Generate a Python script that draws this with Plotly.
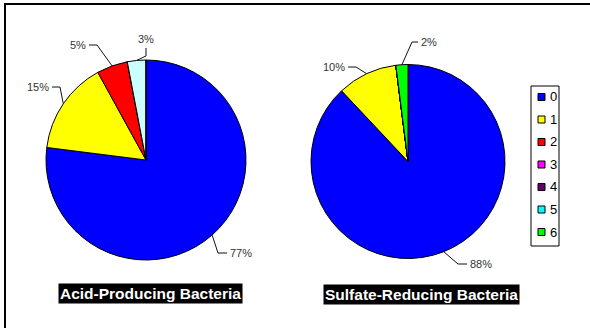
import math
import plotly.graph_objects as go

W, H = 590, 328

# Categories shared by both pies
categories = ["0", "1", "2", "3", "4", "5", "6"]
legend_colors = ["#0000FF", "#FFFF00", "#FF0000", "#FF00FF", "#660066", "#00FFFF", "#00FF00"]

# Percentage of samples in each category
acid_values = [77, 15, 5, 0, 0, 3, 0]
sulfate_values = [88, 10, 0, 0, 0, 0, 2]

acid_colors = ["#0000FF", "#FFFF00", "#FF0000", "#FF00FF", "#660066", "#CCFFFF", "#00FF00"]
sulfate_colors = legend_colors

titles = ["Acid-Producing Bacteria", "Sulfate-Reducing Bacteria"]


def px(x, y):
    """pixel position -> paper coordinates"""
    return x / W, 1 - y / H


# pie geometry in pixels: centre x, centre y, radius
pies = [
    dict(cx=146, cy=160, r=100, values=acid_values, colors=acid_colors),
    dict(cx=408, cy=161.5, r=97, values=sulfate_values, colors=sulfate_colors),
]

# label layout per pie: category -> (elbow, line end, text pos, anchor)
label_layout = [
    {
        "0": ((218, 253), (227, 253), (228, 253), "left"),
        "1": ((60, 87), (52, 87), (51, 87), "right"),
        "2": ((97, 45), (89, 45), (88, 45), "right"),
        "5": ((146, 56), (146, 48), (146, 39), "center"),
    },
    {
        "0": ((458, 264), (467, 264), (468, 264), "left"),
        "1": ((356, 67), (348, 67), (347, 67), "right"),
        "6": ((412, 42), (418, 42), (419, 42), "left"),
    },
]

fig = go.Figure()
shapes = []
annotations = []

for p, layout_map in zip(pies, label_layout):
    x0, y1 = px(p["cx"] - p["r"], p["cy"] - p["r"])
    x1, y0 = px(p["cx"] + p["r"], p["cy"] + p["r"])
    fig.add_trace(go.Pie(
        labels=categories,
        values=p["values"],
        marker=dict(colors=p["colors"], line=dict(color="black", width=1)),
        sort=False,
        direction="clockwise",
        rotation=0,
        textinfo="none",
        hoverinfo="label+percent",
        showlegend=False,
        domain=dict(x=[x0, x1], y=[y0, y1]),
    ))

    total = sum(p["values"])
    cum = 0
    for cat, v in zip(categories, p["values"]):
        if v == 0:
            continue
        mid = (cum + v / 2) / total * 2 * math.pi
        cum += v
        ex = p["cx"] + p["r"] * math.sin(mid)
        ey = p["cy"] - p["r"] * math.cos(mid)
        (bx, by), (lx, ly), (tx, ty), anchor = layout_map[cat]
        pts = [px(ex, ey), px(bx, by), px(lx, ly)]
        path = "M {} {} L {} {} L {} {}".format(*[c for pt in pts for c in pt])
        shapes.append(dict(type="path", xref="paper", yref="paper", path=path,
                           line=dict(color="#111111", width=1)))
        ax, ay = px(tx, ty)
        annotations.append(dict(
            x=ax, y=ay, xref="paper", yref="paper", text=f"{v}%",
            showarrow=False, xanchor=anchor, yanchor="middle",
            font=dict(family="Liberation Sans, Arial", size=11, color="#333333"),
        ))

# chart titles on black bars
for title, (tx, ty) in zip(titles, [(150, 293), (421, 294)]):
    x, y = px(tx, ty)
    annotations.append(dict(
        x=x, y=y, xref="paper", yref="paper", text=f"<b>{title}</b>",
        showarrow=False, xanchor="center", yanchor="middle",
        bgcolor="black", borderpad=1,
        font=dict(family="Liberation Sans, Arial", size=15.5, color="white"),
    ))

# legend box
lx0, ly0 = px(531, 86)
lx1, ly1 = px(559, 246)
shapes.append(dict(type="rect", xref="paper", yref="paper", x0=lx0, y0=ly0, x1=lx1, y1=ly1,
                   line=dict(color="black", width=1), fillcolor="white"))
for i, (cat, col) in enumerate(zip(categories, legend_colors)):
    yc = 97 + 22.5 * i
    sx0, sy0 = px(538, yc - 3.5)
    sx1, sy1 = px(545, yc + 3.5)
    shapes.append(dict(type="rect", xref="paper", yref="paper", x0=sx0, y0=sy0, x1=sx1, y1=sy1,
                       line=dict(color="black", width=1), fillcolor=col))
    tx, ty = px(548, yc)
    annotations.append(dict(
        x=tx, y=ty, xref="paper", yref="paper", text=cat, showarrow=False,
        xanchor="left", yanchor="middle",
        font=dict(family="Liberation Sans, Arial", size=13, color="black"),
    ))

# outer frame
fx0, fy0 = px(5, 4)
fx1, fy1 = px(600, 340)
shapes.append(dict(type="rect", xref="paper", yref="paper", x0=fx0, y0=fy1, x1=fx1, y1=fy0,
                   line=dict(color="black", width=2)))

fig.update_layout(
    width=W, height=H,
    margin=dict(l=0, r=0, t=0, b=0),
    paper_bgcolor="white",
    plot_bgcolor="white",
    shapes=shapes,
    annotations=annotations,
    showlegend=False,
)

fig.write_html("out.html")
